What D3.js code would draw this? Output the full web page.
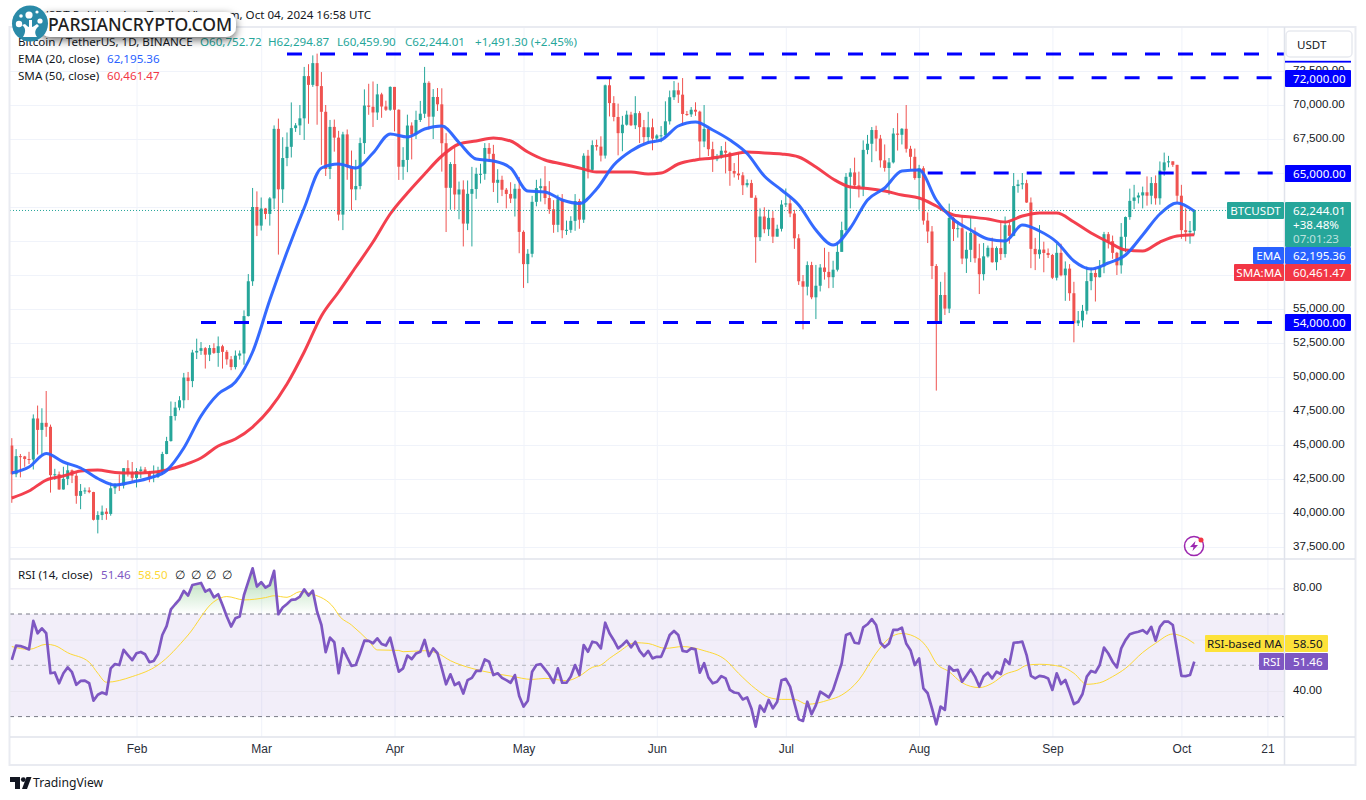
<!DOCTYPE html>
<html>
<head>
<meta charset="utf-8">
<title>BTCUSDT 1D</title>
<script src="https://d3js.org/d3.v7.min.js"></script>
<style>
html, body { margin:0; padding:0; background:#fff; }
svg { display:block; font-family:"Noto Sans", sans-serif; }
text { fill:#131722; font-size:11.6px; }
.axis path, .axis line { display:none; }
.grid path { display:none; }
.grid line { stroke:#f0f3fa; stroke-width:1; }
.time text { font-weight:500; fill:#2a2e39; font-size:12px; }
</style>
</head>
<body>
<svg id="chart" width="1366" height="800"></svg>
<script>
// daily candles, 3 Jan 2024 to 4 Oct 2024, one row per month
const opens = [
  44961,42850,44180,44160,43970,43930,46950,46110,46630,46340,42780,42850,41730,42510,43140,42740,41260,41620,41660,41540,39500,39850,40100,39930,41820,42120,42030,43300,42940,
  42580,43080,43200,42990,42580,42660,43090,44340,45290,47130,47750,48290,49960,49700,51800,51920,52120,51640,52130,51770,52260,51850,51300,50730,51570,51730,54480,57040,62500,
  61130,62390,61990,63130,68245,63800,66100,66925,68300,68500,69020,72125,71480,73080,71390,69500,65300,68390,67600,61940,67840,65500,63800,64040,67200,69960,69870,69450,70780,69890,69650,
  71330,69650,65460,65960,68490,67830,68900,69360,71630,69140,70590,70050,67190,63910,65660,63420,63790,61280,63470,63820,64940,64940,66840,66410,64280,64500,63770,63460,63120,63840,
  60670,58300,59060,62880,63890,64030,63160,62330,61190,63070,60790,60820,61480,62940,61570,66270,65230,67050,66940,66280,71450,70140,69120,67930,68550,69290,68510,69400,68370,67640,68360,
  67530,67760,67770,68800,70570,71080,70760,69340,69310,69650,69510,67320,68240,66750,66010,66190,66640,66490,65150,64960,64830,64100,64260,63180,60280,61800,60860,61700,60320,60900,
  62680,62770,62020,60200,57040,56640,58230,55860,56710,58050,57730,57340,57890,59200,60800,64720,65040,64090,63970,66700,67150,68160,67530,65930,65370,65780,67900,67810,68250,66780,66190,
  64630,65350,61500,60700,58160,53990,56030,55030,61700,60880,60940,58710,59350,60600,58730,57560,58870,59500,58440,59480,59040,61160,60380,64040,64160,64250,62830,59420,59030,59370,59120,
  58970,57300,59130,57480,57970,56160,53950,54160,54870,57050,57650,57340,58130,60500,59990,59130,58210,60310,61760,62950,63200,63350,63580,63330,64260,63140,65180,65780,65860,65600,
  63330,60800,60650,60752.72
];
const highs = [
  45503,44700,44340,44200,44500,47250,47900,47700,48970,46500,43250,43050,43400,43580,43200,42930,42130,41870,41890,41560,40130,40550,40350,42230,42200,42840,43300,43880,43750,
  43300,43420,43380,43100,43500,43400,44500,45600,48200,48170,48590,50300,50370,52000,52820,52570,52200,52350,52480,52980,52370,51980,51540,51950,51950,54900,57570,63900,63650,
  63200,62430,63230,68500,69000,67630,67980,70190,68670,70000,72800,73000,73650,73777,72420,70000,68900,68930,68100,68030,68200,66650,65970,67600,71150,71560,71730,71550,70900,70320,71370,
  71330,69680,66900,69290,68725,69580,70300,72800,71750,71170,71250,71230,67930,65800,66870,64370,64460,64450,65450,65390,65680,67200,67200,67070,65280,64800,63900,64320,64200,64700,
  60780,59400,63320,64500,64600,65500,64400,63000,63400,63450,61500,61820,63450,63100,66450,66700,67400,67450,67700,71500,71950,70650,70100,69200,69580,69500,70650,69550,68900,69500,69000,
  67850,68450,70270,71060,71760,71640,71980,69560,69850,70200,69580,70000,68450,67300,66400,66980,67300,66560,65730,66480,65060,64530,64500,63360,62400,62480,62300,62200,61200,63000,
  63860,63280,62290,60500,57500,58500,58470,58240,58300,59500,59200,58550,59850,61420,65000,65350,66130,65100,67400,67800,68380,68480,67800,67100,66100,68300,69400,68300,70000,67000,66800,
  65600,65500,62100,61100,58300,57000,57700,62750,61780,61470,61850,60700,61800,61000,59800,59850,59670,60250,59600,61400,61800,61400,65000,64500,65000,64500,63200,60230,61170,59950,59450,
  59050,59800,59800,58500,58300,57000,54850,55300,58120,58050,58000,58600,60670,60660,60400,59200,61320,61800,63850,64130,63560,64000,64750,64700,64820,65850,66500,66260,65850,65600,
  64130,62400,61470,62294.87
];
const lows = [
  40750,42630,42620,43400,43600,43200,44300,44300,45600,41500,42430,41700,41720,42050,42200,40680,40280,41400,41450,39450,38500,39480,39500,39800,41400,41620,41800,42680,42270,
  41880,42560,42880,42260,42260,42570,42790,44320,45250,46800,47550,47700,48300,49250,51320,51630,50620,51170,51700,50750,50620,50900,50500,50560,51280,50900,54450,56700,60360,
  60770,61600,61130,62340,59000,62800,65500,66140,68020,67790,67430,68620,71330,68550,65600,64780,64550,66570,61500,60800,64500,62260,63000,63800,66400,69280,68380,68900,69060,69560,69570,
  68060,64490,64500,65060,66000,67500,68750,69040,68200,67500,69560,65100,60660,62300,62300,61600,59600,60800,59600,63100,64230,64500,65800,63600,62800,63300,62400,62790,61800,59100,
  56550,56900,58800,62550,62900,62700,62000,60600,60650,60200,60450,60600,60750,60900,61330,64600,65100,66650,65850,66060,69160,68800,66300,66600,68480,68450,68230,67200,67100,67130,66670,
  67390,67260,67600,68560,70370,70150,68500,69200,69120,69200,66050,66900,66250,65080,65870,66060,64970,64060,64670,64500,63380,63940,63200,58400,60000,60570,60370,59850,60330,60700,
  62500,61750,59420,56770,53500,56000,55720,54260,56290,57160,56530,56550,57760,59220,60630,62400,63900,63200,63300,66380,65800,66600,65400,65100,63400,65700,66650,67100,66500,65300,64500,
  62300,61200,59850,57200,49000,53990,54560,54700,60000,60250,58300,57650,58450,58400,56100,57100,58780,58400,57850,58600,58780,59800,60350,63550,63800,62800,58000,57860,58700,57700,58750,
  57200,57100,57400,55600,55600,52550,53750,53650,54600,56380,55550,57320,57630,59450,58690,57500,57600,59170,61560,62350,62760,62400,62600,62700,62670,62670,64800,65420,65450,62850,
  60160,59980,59800,60459.90
];
const closes = [
  42850,44180,44160,43970,43930,46950,46110,46630,46340,42780,42850,41730,42510,43140,42740,41260,41620,41660,41540,39500,39850,40100,39930,41820,42120,42030,43300,42940,42580,
  43080,43200,42990,42580,42660,43090,44340,45290,47130,47750,48290,49960,49700,51800,51920,52120,51640,52130,51770,52260,51850,51300,50730,51570,51730,54480,57040,62500,61130,
  62390,61990,63130,68245,63800,66100,66925,68300,68500,69020,72125,71480,73080,71390,69500,65300,68390,67600,61940,67840,65500,63800,64040,67200,69960,69870,69450,70780,69890,69650,71330,
  69650,65460,65960,68490,67830,68900,69360,71630,69140,70590,70050,67190,63910,65660,63420,63790,61280,63470,63820,64940,64940,66840,66410,64280,64500,63770,63460,63120,63840,60670,
  58300,59060,62880,63890,64030,63160,62330,61190,63070,60790,60820,61480,62940,61570,66270,65230,67050,66940,66280,71450,70140,69120,67930,68550,69290,68510,69400,68370,67640,68360,67530,
  67760,67770,68800,70570,71080,70760,69340,69310,69650,69510,67320,68240,66750,66010,66190,66640,66490,65150,64960,64830,64100,64260,63180,60280,61800,60860,61700,60320,60900,62680,
  62770,62020,60200,57040,56640,58230,55860,56710,58050,57730,57340,57890,59200,60800,64720,65040,64090,63970,66700,67150,68160,67530,65930,65370,65780,67900,67810,68250,66780,66190,64630,
  65350,61500,60700,58160,53990,56030,55030,61700,60880,60940,58710,59350,60600,58730,57560,58870,59500,58440,59480,59040,61160,60380,64040,64160,64250,62830,59420,59030,59370,59120,58970,
  57300,59130,57480,57970,56160,53950,54160,54870,57050,57650,57340,58130,60500,59990,59130,58210,60310,61760,62950,63200,63350,63580,63330,64260,63140,65180,65780,65860,65600,63330,
  60800,60650,60752.72,62244.01
];

// moving averages every fourth day
const maDays = [0,4,8,12,16,20,24,28,32,36,40,44,48,52,56,60,64,68,72,76,80,84,88,92,96,100,104,108,112,116,120,124,128,132,136,140,144,148,
  151,155,159,163,167,171,175,179,183,187,191,195,199,203,207,211,215,219,223,227,231,235,239,243,247,251,255,259,263,267,271,275];
const emaValues = [42941,43382,44375,43750,43309,42537,42059,42279,42573,43125,44779,47132,48750,49632,51838,55662,59191,62426,65368,65662,65368,66471,67868,67647,68235,68456,67243,66029,65882,65368,63676,63603,63015,62757,63823,65588,66618,67243,
  67426,68456,68750,68162,67426,66434,64779,63750,62647,60809,59706,60956,63015,63897,65147,65221,63015,61581,60809,60147,60000,61176,60735,59926,58529,57941,58382,58970,60441,61985,62794,62195.36];
const smaValues = [41103,41617,42426,42720,43088,43162,42978,42941,42978,43162,43529,44044,44926,45441,46323,47647,49485,51838,54485,56250,58088,59926,61985,63529,64926,66250,67132,67353,67574,67353,66544,65956,65662,65368,65074,65074,65074,64926,
  65000,65662,65956,66103,66324,66544,66471,66397,66176,65441,64559,63971,63860,63676,63382,63162,62574,61912,61765,61618,61397,61838,62059,62059,61397,60588,59926,59338,59265,59926,60368,60461.47];

// RSI (14) for every candle
const rsiValues = [
  52.1,57.7,57.5,56.9,56.2,67.3,62.5,64.4,62.5,46.9,47.2,43.0,46.9,49.2,47.3,42.4,43.9,44.0,43.0,36.2,38.5,39.4,38.7,48.8,50.5,50.1,56.0,54.0,52.0,
  54.7,55.2,54.3,51.2,51.7,54.4,61.8,65.3,71.8,73.8,75.7,79.0,77.2,81.3,81.7,82.1,78.7,79.6,76.5,77.7,73.5,69.0,65.1,68.3,69.0,77.4,82.6,87.8,80.7,
  82.4,80.3,81.3,86.8,69.9,72.5,73.9,75.5,75.7,76.8,79.6,77.2,79.1,70.9,65.7,55.1,60.8,59.0,46.9,56.6,53.1,49.8,50.1,54.7,59.6,59.5,58.6,60.5,58.3,57.7,60.8,
  54.0,47.5,48.8,53.8,52.4,54.6,55.3,59.9,53.6,56.6,54.7,48.8,42.6,46.5,42.3,43.3,39.0,44.2,45.1,47.8,47.8,52.3,51.4,46.2,46.9,45.1,44.2,43.2,46.2,38.0,
  33.9,36.2,47.5,50.1,50.5,48.4,46.2,43.2,48.8,43.2,43.2,45.6,50.1,46.2,57.9,55.3,59.2,58.8,56.6,66.6,62.5,59.8,56.6,57.9,59.6,57.0,59.2,55.6,53.6,55.6,52.7,
  53.3,53.3,57.2,61.8,63.4,61.8,55.6,55.3,56.6,56.2,47.1,50.8,45.3,43.0,43.6,45.8,44.9,40.4,39.4,39.1,36.7,37.5,33.2,26.1,34.3,31.9,36.5,33.2,35.8,44.2,
  44.7,41.7,35.2,29.0,28.3,35.8,30.9,34.5,39.7,38.7,37.5,40.4,45.6,50.8,61.8,62.5,58.8,58.5,64.8,66.0,68.0,65.7,58.8,57.0,58.5,63.8,63.8,64.7,58.5,55.9,50.1,
  52.7,41.0,39.1,33.2,27.0,33.9,32.6,49.5,47.9,48.2,43.6,45.9,48.4,45.6,41.7,45.6,47.1,44.9,47.5,46.6,52.3,50.5,58.8,58.9,59.2,54.0,45.9,44.9,45.9,45.6,44.9,
  40.4,46.9,42.7,44.3,39.7,34.9,35.8,38.8,45.6,47.8,47.2,50.1,56.9,54.6,51.4,49.2,56.6,59.8,62.1,62.7,63.1,63.7,62.4,65.0,59.6,65.0,67.0,67.0,65.7,55.9,
  45.9,45.8,46.2,51.46
];
const rsiMaDays = [0,4,8,10,13,18,20,22,28,34,41,47,50,54,59,61,64,67,70,75,76,79,83,85,90,91,96,99,102,107,112,116,121,124,129,132,135,137,139,141,145,148,152,156,161,166,169,173,176,179,182,185,190,193,197,201,204,207,211,213,215,218,221,225,228,231,234,236,239,244,247,250,253,256,259,263,266,270,272,275];
const rsiMaValues = [57.3,56.2,58.2,57.7,54.9,51.2,46.9,43.4,45.6,50.1,61.8,74.8,76.8,75.5,76.4,77.1,76.5,78.7,77.7,72.2,69.6,65.7,59.5,56.0,55.8,55.3,55.7,54.7,51.8,48.8,46.9,45.8,44.5,44.9,44.0,45.8,49.2,50.1,52.7,55.0,58.8,58.5,56.6,57.3,55.7,52.1,46.9,40.8,37.5,36.7,36.7,34.8,36.5,38.4,44.3,54.7,60.5,62.4,60.2,56.6,50.8,47.5,43.2,41.3,43.0,46.5,48.2,50.0,50.4,49.5,46.9,42.6,43.2,45.6,48.8,55.0,58.6,62.2,61.4,58.5];

// horizontal levels drawn on the chart, with the candle each one starts from
const levelPrices = [73750, 72000, 65000, 54000];
const levelStartDays = [64, 136, 213, 44];

const priceGrid = [37500,40000,42500,45000,47500,50000,52500,55000,57500,60000,62500,65000,67500,70000,72500];
// the other price ticks sit behind the last price and moving average tags
const priceLabels = [37500,40000,42500,45000,47500,50000,52500,55000,67500,70000,72500];
const rsiGrid = [40, 60, 80];
const rsiLabels = [40, 80];
const timeTicks = ["2024-02-01","2024-03-01","2024-04-01","2024-05-01","2024-06-01","2024-07-01","2024-08-01","2024-09-01","2024-10-01","2024-10-21"];
const timeLabels = ["Feb","Mar","Apr","May","Jun","Jul","Aug","Sep","Oct","21"];

const svg = d3.select("#chart");
const days = d3.utcDay.range(Date.UTC(2024,0,3), Date.UTC(2024,9,5));

const paneL = 10, paneR = 1284, paneT = 27, priceB = 559, rsiB = 737, frameB = 765, frameR = 1356;
const teal = "#26a69a", red = "#ef5350";

const x = d3.scaleUtc().domain([days[0], days[days.length - 1]]).range([11.8, 1194.3]);
const yPrice = d3.scaleLinear().domain([37500, 72500]).range([547, 71]);
const yRsi = d3.scaleLinear().domain([30, 70]).range([716.6, 614]);

const defs = svg.append("defs");
defs.append("clipPath").attr("id", "priceClip").append("rect")
    .attr("x", paneL).attr("y", paneT).attr("width", paneR - paneL).attr("height", priceB - paneT);
defs.append("clipPath").attr("id", "over70").append("rect")
    .attr("x", paneL).attr("y", priceB).attr("width", paneR - paneL).attr("height", yRsi(70) - priceB);
const grad = defs.append("linearGradient").attr("id", "obGrad").attr("gradientUnits", "userSpaceOnUse")
    .attr("x1", 0).attr("x2", 0).attr("y1", 575).attr("y2", yRsi(70));
grad.append("stop").attr("offset", 0).attr("stop-color", "#4caf50").attr("stop-opacity", 0.4);
grad.append("stop").attr("offset", 1).attr("stop-color", "#4caf50").attr("stop-opacity", 0);
const shadow = defs.append("filter").attr("id", "pillShadow").attr("x", "-10%").attr("y", "-40%").attr("width", "120%").attr("height", "200%");
shadow.append("feDropShadow").attr("dx", 0).attr("dy", 3).attr("stdDeviation", 4).attr("flood-color", "#000").attr("flood-opacity", 0.6);

// ==================== grid ====================
const monthDates = timeTicks.map(d => new Date(d + "T00:00:00Z"));
svg.append("g").attr("class", "grid")
    .attr("transform", `translate(0,${priceB})`)
    .call(d3.axisBottom(x).tickValues(monthDates).tickSize(-(priceB - paneT)).tickFormat(""));
svg.append("g").attr("class", "grid")
    .attr("transform", `translate(0,${rsiB})`)
    .call(d3.axisBottom(x).tickValues(monthDates).tickSize(-(rsiB - priceB)).tickFormat(""));
svg.append("g").attr("class", "grid")
    .attr("transform", `translate(${paneR},0)`)
    .call(d3.axisLeft(yPrice).tickValues(priceGrid).tickSize(paneR - paneL).tickFormat(""));

// ==================== RSI pane ====================
svg.append("rect")
    .attr("x", paneL).attr("width", paneR - paneL)
    .attr("y", yRsi(70)).attr("height", yRsi(30) - yRsi(70))
    .attr("fill", "#7e57c2").attr("fill-opacity", 0.1);
svg.append("g").attr("class", "grid")
    .attr("transform", `translate(${paneR},0)`)
    .call(d3.axisLeft(yRsi).tickValues(rsiGrid).tickSize(paneR - paneL).tickFormat(""))
    .selectAll("line").style("stroke", "#e9e7f1");

[[70, "#787b86"], [50, "#b4b6bd"], [30, "#787b86"]].forEach(function(b) {
    svg.append("line")
        .attr("x1", paneL).attr("x2", paneR)
        .attr("y1", yRsi(b[0])).attr("y2", yRsi(b[0]))
        .attr("stroke", b[1]).attr("stroke-dasharray", "4 4");
});

const rsiArea = d3.area()
    .x((d, i) => x(days[i]))
    .y0(yRsi(70))
    .y1(d => yRsi(d));
svg.append("path").datum(rsiValues)
    .attr("clip-path", "url(#over70)")
    .attr("d", rsiArea)
    .attr("fill", "url(#obGrad)");

const rsiMaLine = d3.line()
    .x((d, i) => x(days[rsiMaDays[i]]))
    .y(d => yRsi(d))
    .curve(d3.curveMonotoneX);
svg.append("path").datum(rsiMaValues)
    .attr("d", rsiMaLine)
    .attr("fill", "none").attr("stroke", "#fdd835").attr("stroke-width", 1);

const rsiLine = d3.line()
    .x((d, i) => x(days[i]))
    .y(d => yRsi(d));
svg.append("path").datum(rsiValues)
    .attr("d", rsiLine)
    .attr("fill", "none").attr("stroke", "#7e57c2").attr("stroke-width", 2.7).attr("stroke-linejoin", "round");

// ==================== candles ====================
const price = svg.append("g").attr("clip-path", "url(#priceClip)");
const candle = price.selectAll(".candle").data(days).enter().append("g").attr("class", "candle");
candle.append("line")
    .attr("x1", d => x(d)).attr("x2", d => x(d))
    .attr("y1", (d, i) => yPrice(highs[i]))
    .attr("y2", (d, i) => yPrice(lows[i]))
    .attr("stroke", (d, i) => closes[i] >= opens[i] ? teal : red)
    .attr("stroke-width", 1);
candle.append("rect")
    .attr("x", d => x(d) - 1.5)
    .attr("width", 3)
    .attr("y", (d, i) => yPrice(Math.max(opens[i], closes[i])))
    .attr("height", (d, i) => Math.max(1, Math.abs(yPrice(opens[i]) - yPrice(closes[i]))))
    .attr("fill", (d, i) => closes[i] >= opens[i] ? teal : red);

// ==================== moving averages ====================
const maLine = d3.line()
    .x((d, i) => x(days[maDays[i]]))
    .y(d => yPrice(d))
    .curve(d3.curveMonotoneX);
price.append("path").datum(smaValues)
    .attr("d", maLine)
    .attr("fill", "none").attr("stroke", "#f23645").attr("stroke-width", 3).attr("stroke-opacity", 0.95);
price.append("path").datum(emaValues)
    .attr("d", maLine)
    .attr("fill", "none").attr("stroke", "#2962ff").attr("stroke-width", 3).attr("stroke-opacity", 0.95);

// ==================== level lines ====================
price.selectAll(".level").data(levelPrices).enter().append("line")
    .attr("class", "level")
    .attr("x1", (d, i) => x(days[levelStartDays[i]]))
    .attr("x2", paneR)
    .attr("y1", d => yPrice(d))
    .attr("y2", d => yPrice(d))
    .attr("stroke", "#0000ff").attr("stroke-width", 3).attr("stroke-dasharray", "15 18");

// last price dotted line
svg.append("line")
    .attr("x1", paneL).attr("x2", 1227)
    .attr("y1", yPrice(closes[closes.length - 1])).attr("y2", yPrice(closes[closes.length - 1]))
    .attr("stroke", teal).attr("stroke-dasharray", "1 2");

// ==================== frame ====================
svg.append("rect")
    .attr("x", paneL - 0.5).attr("y", paneT).attr("width", frameR - paneL).attr("height", frameB - paneT)
    .attr("fill", "none").attr("stroke", "#e9ebf1").attr("stroke-width", 2);
[priceB, rsiB].forEach(function(yy) {
    svg.append("line").attr("x1", paneL).attr("x2", paneR + 72 - 1).attr("y1", yy).attr("y2", yy)
        .attr("stroke", "#e0e3eb").attr("stroke-width", 1.5);
});
svg.append("line").attr("x1", paneR + 0.5).attr("x2", paneR + 0.5).attr("y1", paneT).attr("y2", frameB)
    .attr("stroke", "#e0e3eb").attr("stroke-width", 1.5);

// ==================== axes ====================
svg.append("g").attr("class", "axis")
    .attr("transform", `translate(${paneR},0)`)
    .call(d3.axisRight(yPrice).tickValues(priceLabels).tickSize(0).tickPadding(9).tickFormat(d3.format(",.2f")))
    .selectAll("text").attr("dy", "0.2em");
svg.append("g").attr("class", "axis")
    .attr("transform", `translate(${paneR},0)`)
    .call(d3.axisRight(yRsi).tickValues(rsiLabels).tickSize(0).tickPadding(9).tickFormat(d3.format(".2f")))
    .selectAll("text").attr("dy", "0.2em");
svg.append("g").attr("class", "axis time")
    .attr("transform", `translate(0,${rsiB})`)
    .call(d3.axisBottom(x).tickValues(monthDates).tickSize(0).tickPadding(7).tickFormat((d, i) => timeLabels[i]));

// ==================== price scale labels ====================
function boxText(xx, yy, str, fill, anchor, opacity) {
    return svg.append("text").attr("x", xx).attr("y", yy).attr("text-anchor", anchor || "start")
        .attr("fill-opacity", opacity || 1).style("fill", fill).text(str);
}
function tag(x0, y0, w, h, fill) {
    svg.append("rect").attr("x", x0).attr("y", y0).attr("width", w).attr("height", h).attr("rx", 1).attr("fill", fill);
}

svg.append("rect").attr("x", 1286).attr("y", 31).attr("width", 66).attr("height", 26).attr("rx", 4)
    .attr("fill", "#fff").attr("stroke", "#e8eaf0").attr("stroke-width", 1.5);
boxText(1297, 49, "USDT", "#131722");
svg.append("rect").attr("x", 1285).attr("y", 60.8).attr("width", 66).attr("height", 1.8).attr("fill", "#0000ff");

tag(1285, 70, 66, 17, "#0000ff");
boxText(1293, 83, "72,000.00", "#fff");
tag(1285, 165, 66, 17, "#0000ff");
boxText(1293, 178, "65,000.00", "#fff");
tag(1285, 314, 66, 17, "#0000ff");
boxText(1293, 327, "54,000.00", "#fff");

tag(1227, 202, 57, 17, teal);
boxText(1255.5, 215, "BTCUSDT", "#fff", "middle");
tag(1285, 202, 66, 45, teal);
boxText(1293, 215, "62,244.01", "#fff");
boxText(1293, 229, "+38.48%", "#fff");
boxText(1293, 243, "07:01:23", "#fff", "start", 0.7);

tag(1253, 247, 31, 17, "#2962ff");
boxText(1268.5, 260, "EMA", "#fff", "middle");
tag(1285, 247, 66, 17, "#2962ff");
boxText(1293, 260, "62,195.36", "#fff");

tag(1234, 264, 50, 17, "#f23645");
boxText(1259, 277, "SMA:MA", "#fff", "middle");
tag(1285, 264, 66, 17, "#f23645");
boxText(1293, 277, "60,461.47", "#fff");

tag(1205, 635, 79, 17, "#fde23a");
boxText(1244.5, 648, "RSI-based MA", "#131722", "middle");
tag(1285, 635, 43, 17, "#fde23a");
boxText(1293, 648, "58.50", "#131722");

tag(1259, 653, 25, 17, "#7e57c2");
boxText(1271.5, 666, "RSI", "#fff", "middle");
tag(1285, 653, 43, 17, "#7e57c2");
boxText(1293, 666, "51.46", "#fff");

// ==================== legends ====================
boxText(371, 19, "BTCUSDT Published on TradingView.com, Oct 04, 2024 16:58 UTC", "#131722", "end");
boxText(18, 46, "Bitcoin / TetherUS, 1D, BINANCE", "#131722");
boxText(200, 46, "O60,752.72", teal);
boxText(268, 46, "H62,294.87", teal);
boxText(337, 46, "L60,459.90", teal);
boxText(405, 46, "C62,244.01", teal);
boxText(475, 46, "+1,491.30 (+2.45%)", teal);
boxText(18, 63, "EMA (20, close)", "#131722");
boxText(107, 63, "62,195.36", "#2962ff");
boxText(18, 80, "SMA (50, close)", "#131722");
boxText(107, 80, "60,461.47", "#f23645");
boxText(18, 579, "RSI (14, close)", "#131722");
boxText(101, 579, "51.46", "#7e57c2");
boxText(138, 579, "58.50", "#fdd835");
[175, 191, 206, 222].forEach(xx => boxText(xx, 579, "∅", "#131722"));

// ==================== watermark ====================
const mark = svg.append("g");
mark.append("rect").attr("x", 40).attr("y", 12).attr("width", 196).attr("height", 25).attr("rx", 10)
    .attr("fill", "#fff").attr("filter", "url(#pillShadow)");
mark.append("text").attr("x", 48).attr("y", 31).style("font-size", "17.6px").style("font-weight", 500).style("fill", "#1f1f1f").text("PARSIANCRYPTO.COM");
mark.append("circle").attr("cx", 30).attr("cy", 23.5).attr("r", 18).attr("fill", "#2a8aa8");
mark.append("path").attr("fill", "#fff")
    .attr("d", "M23 37 C26 32 26 28 22 25 L25 24 C27 26 28 27 29 27 L29 20 L32 20 L32 27 C33 27 35 25 37 24 L39 26 C35 29 34 33 37 37 Z");
[[19, 24, 3.2], [29, 15, 3.6], [40, 21, 2.6], [21, 16, 1.8], [37, 12, 1.6]].forEach(function(c) {
    mark.append("circle").attr("cx", c[0]).attr("cy", c[1]).attr("r", c[2]).attr("fill", "#fff");
});

// ==================== small icons ====================
const bolt = svg.append("g").attr("transform", "translate(1194,546)");
bolt.append("circle").attr("r", 9.5).attr("fill", "none").attr("stroke", "#9c27b0").attr("stroke-width", 1.5);
bolt.append("path").attr("d", "M1.5 -5 L-4 1 L-0.5 1 L-1.5 5 L4 -1 L0.5 -1 Z").attr("fill", "#9c27b0");
bolt.append("circle").attr("cx", 7).attr("cy", -6).attr("r", 2.5).attr("fill", "#f23645");

const tv = svg.append("g").attr("fill", "#131722");
tv.append("path").attr("d", "M10 777 h10 v12 h-5 v-7 h-5 Z");
tv.append("circle").attr("cx", 23.3).attr("cy", 779.6).attr("r", 2.4);
tv.append("path").attr("d", "M26.5 777 h5 l-4.5 12 h-5 Z");
boxText(33, 787, "TradingView", "#131722").style("font-size", "12.2px");
</script>
</body>
</html>
